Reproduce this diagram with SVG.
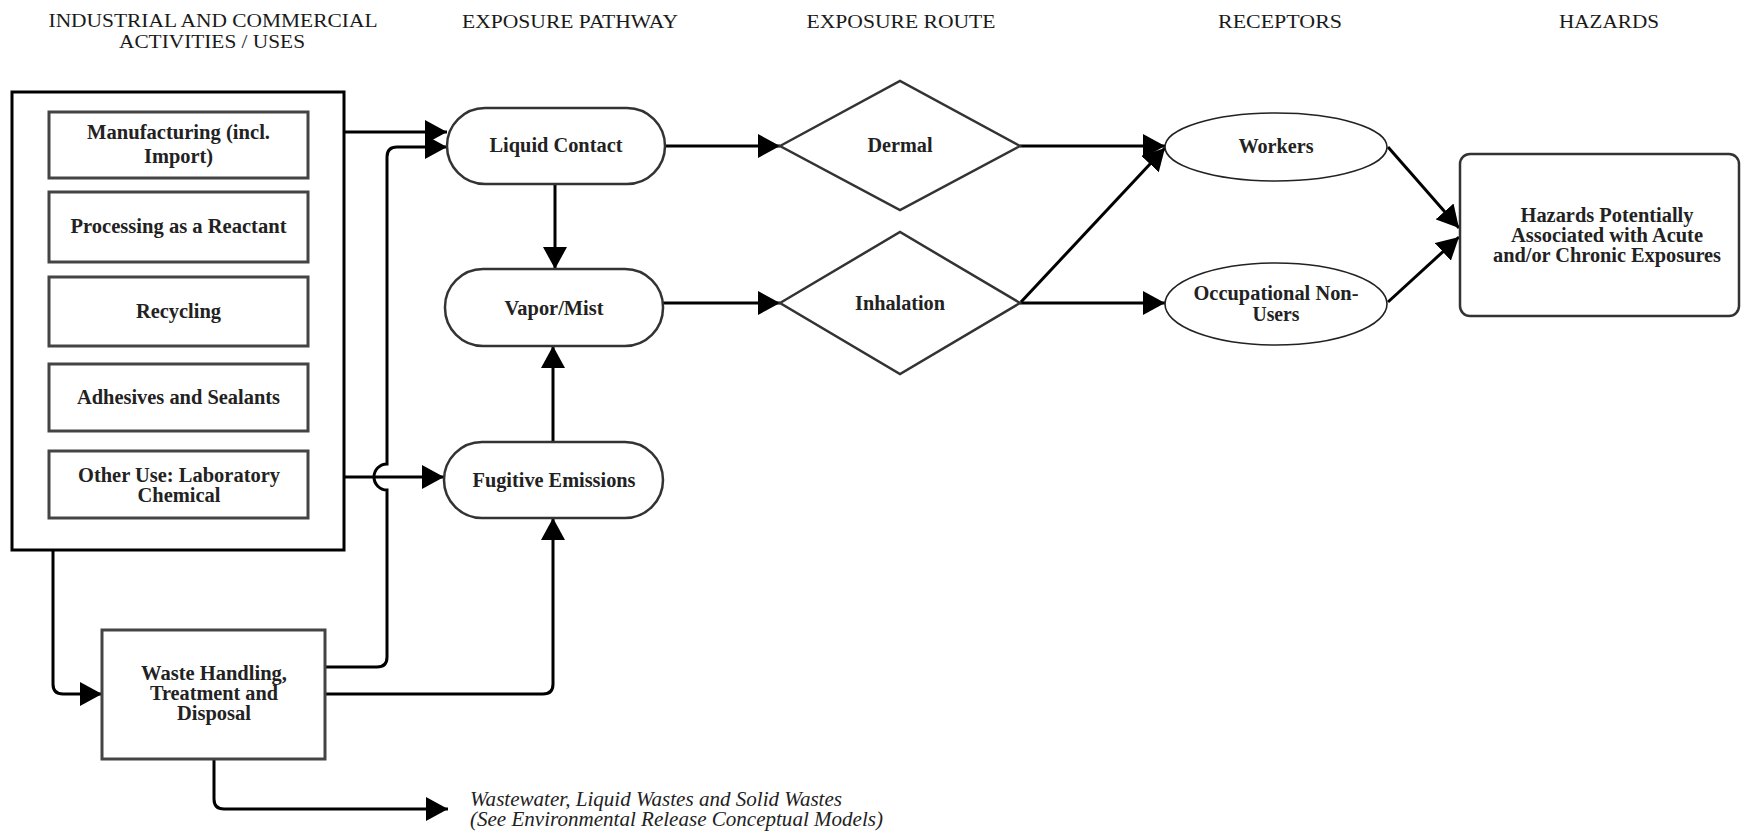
<svg xmlns="http://www.w3.org/2000/svg" width="1741" height="831" viewBox="0 0 1741 831">
  <style>
    .frame { fill: #fff; stroke: #000; stroke-width: 3; }
    .inner { fill: #fff; stroke: #444; stroke-width: 3; }
    .pill { fill: #fff; stroke: #333; stroke-width: 2.5; }
    .diam { fill: #fff; stroke: #333; stroke-width: 2.5; }
    .ell { fill: #fff; stroke: #222; stroke-width: 1.6; }
    .edge { fill: none; stroke: #000; stroke-width: 3; marker-end: url(#ah); }
    text { font-family: "Liberation Serif", "Times New Roman", Tinos, "Nimbus Roman", "DejaVu Serif", serif; fill: #222; text-anchor: middle; }
    .lbl { font-size: 20.5px; font-weight: bold; }
    .hdr { font-size: 19px; font-weight: normal; fill: #1a1a1a; }
    .note { font-size: 20.5px; font-style: italic; text-anchor: start; }
  </style>
  <defs>
    <marker id="ah" markerUnits="userSpaceOnUse" markerWidth="24" markerHeight="24" refX="22" refY="12" orient="auto">
      <path d="M0,0 L22,12 L0,24 Z" fill="#000"/>
    </marker>
  </defs>

  <rect width="1741" height="831" fill="#fff"/>

  <!-- column headings -->
  <g id="headings">
    <text class="hdr" x="213" y="27" textLength="329" lengthAdjust="spacingAndGlyphs">INDUSTRIAL AND COMMERCIAL</text>
    <text class="hdr" x="212" y="48" textLength="186" lengthAdjust="spacingAndGlyphs">ACTIVITIES / USES</text>
    <text class="hdr" x="570" y="28" textLength="216" lengthAdjust="spacingAndGlyphs">EXPOSURE PATHWAY</text>
    <text class="hdr" x="901" y="28" textLength="189" lengthAdjust="spacingAndGlyphs">EXPOSURE ROUTE</text>
    <text class="hdr" x="1280" y="28" textLength="124" lengthAdjust="spacingAndGlyphs">RECEPTORS</text>
    <text class="hdr" x="1609" y="28" textLength="100" lengthAdjust="spacingAndGlyphs">HAZARDS</text>
  </g>

  <!-- connectors -->
  <g id="connectors">
    <path class="edge" d="M344,132 H447"/>
    <path class="edge" d="M325,667 H377 Q387,667 387,657 V490 A13,13 0 0,1 387,464 V157 Q387,147 397,147 H447"/>
    <path class="edge" d="M344,477 H444"/>
    <path class="edge" d="M53,550 V684 Q53,694 63,694 H102"/>
    <path class="edge" d="M325,694 H543 Q553,694 553,684 V518"/>
    <path class="edge" d="M214,759 V799 Q214,809 224,809 H448"/>
    <path class="edge" d="M555,184 V269"/>
    <path class="edge" d="M553,442 V346"/>
    <path class="edge" d="M665,146 H780"/>
    <path class="edge" d="M663,303 H780"/>
    <path class="edge" d="M1020,146 H1165"/>
    <path class="edge" d="M1021,302 L1165,148"/>
    <path class="edge" d="M1020,303 H1165"/>
    <path class="edge" d="M1388,147 L1459,228"/>
    <path class="edge" d="M1388,302 L1459,237"/>
  </g>

  <!-- activities / uses -->
  <g id="activities">
    <rect class="frame" x="12" y="92" width="332" height="458"/>
  </g>
  <g id="manufacturing">
    <rect class="inner" x="49" y="112" width="259" height="66"/>
    <text class="lbl" x="178.5" y="139" textLength="183" lengthAdjust="spacingAndGlyphs">Manufacturing (incl.</text>
    <text class="lbl" x="178.5" y="163" textLength="69" lengthAdjust="spacingAndGlyphs">Import)</text>
  </g>
  <g id="processing">
    <rect class="inner" x="49" y="192" width="259" height="70"/>
    <text class="lbl" x="178.5" y="233" textLength="216" lengthAdjust="spacingAndGlyphs">Processing as a Reactant</text>
  </g>
  <g id="recycling">
    <rect class="inner" x="49" y="277" width="259" height="69"/>
    <text class="lbl" x="178.5" y="318" textLength="85" lengthAdjust="spacingAndGlyphs">Recycling</text>
  </g>
  <g id="adhesives">
    <rect class="inner" x="49" y="364" width="259" height="67"/>
    <text class="lbl" x="178.5" y="404" textLength="203" lengthAdjust="spacingAndGlyphs">Adhesives and Sealants</text>
  </g>
  <g id="lab-chemical">
    <rect class="inner" x="49" y="451" width="259" height="67"/>
    <text class="lbl" x="179" y="482" textLength="202" lengthAdjust="spacingAndGlyphs">Other Use: Laboratory</text>
    <text class="lbl" x="179" y="502" textLength="83" lengthAdjust="spacingAndGlyphs">Chemical</text>
  </g>
  <g id="waste">
    <rect class="inner" x="102" y="630" width="223" height="129"/>
    <text class="lbl" x="214" y="680" textLength="146" lengthAdjust="spacingAndGlyphs">Waste Handling,</text>
    <text class="lbl" x="214" y="700" textLength="128" lengthAdjust="spacingAndGlyphs">Treatment and</text>
    <text class="lbl" x="214" y="720" textLength="74" lengthAdjust="spacingAndGlyphs">Disposal</text>
  </g>
  <g id="waste-note">
    <text class="note" x="470" y="806" textLength="372" lengthAdjust="spacingAndGlyphs">Wastewater, Liquid Wastes and Solid Wastes</text>
    <text class="note" x="470" y="826" textLength="413" lengthAdjust="spacingAndGlyphs">(See Environmental Release Conceptual Models)</text>
  </g>

  <!-- exposure pathways -->
  <g id="liquid-contact">
    <rect class="pill" x="447" y="108" width="218" height="76" rx="38"/>
    <text class="lbl" x="556" y="152" textLength="133" lengthAdjust="spacingAndGlyphs">Liquid Contact</text>
  </g>
  <g id="vapor-mist">
    <rect class="pill" x="445" y="269" width="218" height="77" rx="38"/>
    <text class="lbl" x="554" y="315" textLength="99" lengthAdjust="spacingAndGlyphs">Vapor/Mist</text>
  </g>
  <g id="fugitive">
    <rect class="pill" x="444" y="442" width="219" height="76" rx="38"/>
    <text class="lbl" x="554" y="487" textLength="163" lengthAdjust="spacingAndGlyphs">Fugitive Emissions</text>
  </g>

  <!-- exposure routes -->
  <g id="dermal">
    <polygon class="diam" points="780,146 900,81 1020,146 900,210"/>
    <text class="lbl" x="900" y="152" textLength="65" lengthAdjust="spacingAndGlyphs">Dermal</text>
  </g>
  <g id="inhalation">
    <polygon class="diam" points="780,303 900,232 1020,303 900,374"/>
    <text class="lbl" x="900" y="310" textLength="90" lengthAdjust="spacingAndGlyphs">Inhalation</text>
  </g>

  <!-- receptors -->
  <g id="workers">
    <ellipse class="ell" cx="1276" cy="147" rx="111" ry="34"/>
    <text class="lbl" x="1276" y="153" textLength="75" lengthAdjust="spacingAndGlyphs">Workers</text>
  </g>
  <g id="non-users">
    <ellipse class="ell" cx="1276" cy="304" rx="111" ry="41"/>
    <text class="lbl" x="1276" y="300" textLength="165" lengthAdjust="spacingAndGlyphs">Occupational Non-</text>
    <text class="lbl" x="1276" y="321" textLength="47" lengthAdjust="spacingAndGlyphs">Users</text>
  </g>

  <!-- hazards -->
  <g id="hazards">
    <rect class="pill" x="1460" y="154" width="279" height="162" rx="10"/>
    <text class="lbl" x="1607" y="222" textLength="173" lengthAdjust="spacingAndGlyphs">Hazards Potentially</text>
    <text class="lbl" x="1607" y="242" textLength="192" lengthAdjust="spacingAndGlyphs">Associated with Acute</text>
    <text class="lbl" x="1607" y="262" textLength="228" lengthAdjust="spacingAndGlyphs">and/or Chronic Exposures</text>
  </g>
</svg>
